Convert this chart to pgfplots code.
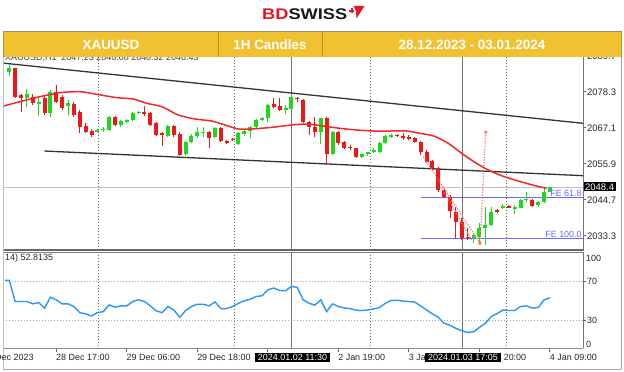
\documentclass[border=0pt]{standalone}
\usepackage{pgfplots}
\usepackage{pgfplotstable}
\pgfplotsset{compat=1.18}
\usepackage{fontspec}
\setmainfont{Liberation Sans}
\definecolor{bandY}{RGB}{240,194,50}
\definecolor{bdred}{RGB}{226,24,36}
\definecolor{cG}{RGB}{30,215,30}
\definecolor{cR}{RGB}{235,25,25}
\definecolor{maR}{RGB}{240,40,40}
\definecolor{rsiB}{RGB}{40,150,250}
\definecolor{feB}{RGB}{105,105,255}
\definecolor{fibP}{RGB}{255,105,105}
\definecolor{bidG}{RGB}{192,192,200}

\pgfplotstableread{
i O H L C
0 2084.53 2086.62 2083.28 2085.78
3 2076.20 2079.01 2073.59 2077.45
5 2074.32 2076.20 2070.78 2075.16
7 2071.51 2078.80 2070.47 2078.28
10 2073.91 2075.68 2070.99 2074.64
15 2065.78 2066.62 2065.57 2066.30
16 2066.20 2067.34 2065.78 2066.62
17 2066.30 2070.78 2065.99 2070.47
19 2067.87 2069.43 2067.34 2069.12
20 2068.91 2069.64 2068.39 2069.43
21 2069.43 2071.82 2069.12 2071.51
22 2071.51 2072.24 2071.20 2072.03
27 2064.43 2067.87 2064.22 2067.55
30 2058.70 2062.87 2058.28 2062.45
31 2062.45 2064.95 2062.14 2064.53
32 2064.43 2067.34 2063.91 2065.78
33 2065.57 2067.34 2064.22 2065.78
35 2064.22 2067.34 2063.91 2067.03
39 2061.82 2065.57 2061.62 2065.26
40 2064.95 2066.30 2064.53 2065.99
41 2065.99 2067.66 2063.70 2067.34
42 2067.34 2069.74 2067.03 2069.43
43 2069.43 2070.47 2069.12 2069.95
44 2069.95 2074.32 2068.91 2074.11
47 2072.55 2074.11 2071.20 2073.07
48 2072.87 2077.45 2072.55 2076.72
53 2065.57 2070.16 2061.82 2069.95
55 2058.70 2065.99 2058.49 2065.57
60 2057.97 2058.91 2057.66 2058.70
61 2058.70 2059.53 2058.28 2059.32
62 2059.32 2060.57 2059.01 2060.05
63 2059.53 2062.45 2059.22 2062.14
64 2062.14 2064.74 2061.82 2064.43
65 2064.22 2064.95 2063.91 2064.74
79 2032.66 2034.01 2030.89 2033.49
80 2032.97 2037.14 2030.57 2035.78
81 2035.57 2042.34 2030.37 2036.62
82 2036.62 2042.34 2036.41 2040.78
84 2041.82 2043.07 2041.62 2042.66
86 2041.62 2042.87 2039.95 2042.34
87 2042.03 2044.74 2041.82 2044.43
88 2044.32 2047.03 2043.91 2044.74
90 2042.87 2044.12 2042.34 2043.70
91 2043.70 2048.28 2043.39 2046.82
92 2046.82 2048.49 2046.82 2048.40
}\greentab

\pgfplotstableread{
i O H L C
1 2085.57 2085.78 2076.20 2076.72
2 2077.24 2077.45 2072.03 2076.41
4 2076.72 2077.45 2074.11 2074.64
6 2076.20 2077.24 2070.99 2071.51
8 2078.07 2080.37 2074.64 2075.16
9 2076.72 2077.24 2072.55 2073.07
11 2074.32 2074.95 2070.47 2070.99
12 2072.03 2072.55 2065.26 2067.34
13 2067.66 2068.39 2065.26 2065.78
14 2065.99 2066.62 2064.22 2064.74
18 2070.47 2070.78 2067.66 2067.87
23 2072.03 2073.91 2070.78 2071.30
24 2071.51 2071.82 2067.66 2067.87
25 2068.39 2068.91 2064.53 2064.74
26 2065.26 2065.57 2061.41 2064.74
28 2067.55 2067.87 2064.22 2064.74
29 2064.95 2065.57 2058.28 2058.49
34 2065.78 2065.99 2060.78 2063.91
36 2067.03 2067.34 2062.66 2062.87
37 2062.87 2063.07 2061.82 2062.14
38 2063.49 2063.70 2062.87 2063.07
45 2074.32 2076.20 2073.07 2073.59
46 2073.91 2076.20 2072.24 2072.55
49 2076.41 2076.72 2075.16 2075.89
50 2075.68 2075.99 2068.39 2068.91
51 2068.91 2069.12 2064.74 2067.34
52 2067.34 2070.47 2064.22 2065.78
54 2070.16 2070.47 2055.57 2058.70
56 2065.57 2065.99 2061.62 2062.14
57 2062.45 2062.87 2060.37 2060.78
58 2061.09 2061.62 2060.16 2060.57
59 2060.57 2060.78 2057.66 2057.97
66 2064.74 2064.95 2064.12 2064.32
67 2064.43 2065.47 2063.18 2063.70
68 2064.22 2064.74 2063.07 2063.49
69 2063.70 2064.22 2062.14 2062.45
70 2062.45 2062.87 2058.49 2059.53
71 2059.53 2060.05 2055.89 2056.41
72 2056.62 2056.93 2053.80 2054.32
73 2054.53 2054.84 2046.82 2047.55
74 2047.55 2048.28 2044.95 2045.47
75 2045.47 2045.99 2038.70 2040.99
76 2040.78 2042.34 2032.45 2037.45
77 2037.45 2038.70 2031.93 2032.45
78 2032.87 2035.57 2031.93 2032.45
83 2041.30 2041.62 2040.26 2040.78
85 2042.66 2042.87 2041.82 2042.03
89 2044.43 2044.74 2042.34 2042.66
}\redtab

\pgfplotstablegetrowsof{\greentab}\pgfmathtruncatemacro{\nG}{\pgfplotsretval-1}
\pgfplotstablegetrowsof{\redtab}\pgfmathtruncatemacro{\nR}{\pgfplotsretval-1}

\begin{document}
\begin{tikzpicture}
\path[use as bounding box, fill=white] (0bp,0bp) rectangle (624bp,372bp);

% ---------------- main price panel ----------------
\begin{axis}[
  at={(3bp,122bp)}, anchor=south west, scale only axis,
  width=580bp, height=195bp,
  xmin=-1.07, xmax=97.62, ymin=2028.81, ymax=2089.74,
  axis line style={draw=none},
  xtick=\empty,
  ytick={2033.3,2044.7,2055.9,2067.1,2078.3,2089.7},
  yticklabels={2033.3,2044.7,2055.9,2067.1,2078.3,2089.7},
  ytick pos=right, yticklabel pos=right,
  tick align=outside, major tick length=3bp,
  tick style={draw=black!60, line width=0.8bp},
  yticklabel style={font=\fontsize{9.5}{10}\selectfont, text=black!85, anchor=west, inner xsep=1bp, yshift=-1bp},
]
% day separators
\addplot[forget plot, black!60, line width=0.9bp, dash pattern=on 1bp off 2bp] coordinates {(15.09,2028.81) (15.09,2089.74)};
\addplot[forget plot, black!60, line width=0.9bp, dash pattern=on 1bp off 2bp] coordinates {(38.23,2028.81) (38.23,2089.74)};
\addplot[forget plot, black!60, line width=0.9bp, dash pattern=on 1bp off 2bp] coordinates {(61.37,2028.81) (61.37,2089.74)};
\addplot[forget plot, black!60, line width=0.9bp, dash pattern=on 1bp off 2bp] coordinates {(84.52,2028.81) (84.52,2089.74)};
% cursor lines
\addplot[forget plot, black!55, line width=1bp] coordinates {(48.10,2028.81) (48.10,2089.74)};
\addplot[forget plot, black!55, line width=1bp] coordinates {(77.03,2028.81) (77.03,2089.74)};
% bid line
\addplot[forget plot, bidG, line width=1bp] coordinates {(-1.07,2048.4) (97.62,2048.4)};
% FE levels
\addplot[forget plot, feB, line width=1bp] coordinates {(70.0,2045.15) (97.62,2045.15)};
\addplot[forget plot, feB, line width=1bp] coordinates {(70.0,2032.46) (97.62,2032.46)};
% trend channel
\addplot[forget plot, black!80, line width=1.3bp] coordinates {(-1.07,2087.21) (97.62,2068.40)};
\addplot[forget plot, black!80, line width=1.3bp] coordinates {(5.96,2059.74) (97.62,2052.03)};
% candles
\pgfplotsinvokeforeach{0,...,\nG}{
  \pgfplotstablegetelem{#1}{i}\of\greentab \let\ci\pgfplotsretval
  \pgfplotstablegetelem{#1}{O}\of\greentab \let\cO\pgfplotsretval
  \pgfplotstablegetelem{#1}{H}\of\greentab \let\cH\pgfplotsretval
  \pgfplotstablegetelem{#1}{L}\of\greentab \let\cL\pgfplotsretval
  \pgfplotstablegetelem{#1}{C}\of\greentab \let\cC\pgfplotsretval
  \edef\tmp{\noexpand\addplot[forget plot, cG, line width=1bp] coordinates {(\ci,\cL) (\ci,\cH)};
    \noexpand\addplot[forget plot, cG, line width=4bp] coordinates {(\ci,\cO) (\ci,\cC)};}
  \tmp
}
\pgfplotsinvokeforeach{0,...,\nR}{
  \pgfplotstablegetelem{#1}{i}\of\redtab \let\ci\pgfplotsretval
  \pgfplotstablegetelem{#1}{O}\of\redtab \let\cO\pgfplotsretval
  \pgfplotstablegetelem{#1}{H}\of\redtab \let\cH\pgfplotsretval
  \pgfplotstablegetelem{#1}{L}\of\redtab \let\cL\pgfplotsretval
  \pgfplotstablegetelem{#1}{C}\of\redtab \let\cC\pgfplotsretval
  \edef\tmp{\noexpand\addplot[forget plot, cR, line width=1bp] coordinates {(\ci,\cL) (\ci,\cH)};
    \noexpand\addplot[forget plot, cR, line width=4bp] coordinates {(\ci,\cO) (\ci,\cC)};}
  \tmp
}
% moving average
\addplot[forget plot, maR, line width=1.5bp, smooth, tension=0.4] coordinates {
(-1.07,2073.70) (-0.73,2073.91) (1.82,2075.16) (5.22,2076.72) (8.63,2077.97) (12.03,2078.28)
(14.87,2077.45) (18.27,2076.41) (21.1,2075.99) (23.38,2074.64) (25.93,2073.59) (28.76,2070.99)
(31.6,2069.74) (34.44,2069.12) (36.7,2067.87) (38.97,2066.62) (41.24,2066.62) (44.65,2067.13)
(48.05,2067.87) (50.6,2068.18) (53.43,2067.55) (56.27,2066.82) (59.11,2066.30) (61.94,2065.99)
(64.78,2065.99) (67.62,2065.99) (69.88,2065.26) (71.58,2064.74) (72.43,2064.32) (74.7,2062.14)
(76.98,2059.01) (79.24,2056.20) (81.5,2053.80) (83.78,2052.03) (86.6,2050.37) (89.45,2048.91)
(91.44,2048.07)};
% fibo expansion dotted lines
\addplot[forget plot, fibP, line width=1.1bp, dash pattern=on 1.2bp off 1.5bp] coordinates {(70.45,2057.96) (80.09,2030.90) (81.06,2065.59)};
\addplot[forget plot, fibP, line width=1.1bp, dash pattern=on 1.2bp off 1.5bp] coordinates {(73.57,2048.34) (78.68,2031.93)};
\addplot[forget plot, fibP, only marks, mark=o, mark size=1.4bp, line width=0.7bp] coordinates {(81.06,2065.59) (80.09,2030.90)};
\end{axis}

% ---------------- RSI panel ----------------
\begin{axis}[
  at={(3bp,22.75bp)}, anchor=south west, scale only axis,
  width=580bp, height=97.5bp,
  xmin=-1.07, xmax=97.62, ymin=0, ymax=100,
  axis line style={draw=none},
  ytick={30,70}, yticklabels={30,70},
  ytick pos=right, yticklabel pos=right,
  xtick={7.95,19.95,31.95,43.95,55.95,67.95,79.95,91.95},
  xticklabels={28 Dec 17:00,29 Dec 06:00,29 Dec 18:00,,2 Jan 19:00,3 Jan 08:00,3 Jan 20:00,4 Jan 09:00},
  xtick pos=bottom,
  tick align=outside, major tick length=3bp,
  tick style={draw=black!60, line width=0.8bp},
  yticklabel style={font=\fontsize{9}{10}\selectfont, text=black!85, anchor=west, inner xsep=1bp},
  xticklabel style={font=\fontsize{9}{10}\selectfont, text=black!85, anchor=north west, inner xsep=0bp, inner ysep=1.5bp},
]
\addplot[forget plot, black!35, line width=0.9bp, dash pattern=on 1bp off 2bp] coordinates {(-1.07,70) (97.62,70)};
\addplot[forget plot, black!35, line width=0.9bp, dash pattern=on 1bp off 2bp] coordinates {(-1.07,30) (97.62,30)};
\addplot[forget plot, black!60, line width=0.9bp, dash pattern=on 1bp off 2bp] coordinates {(15.09,0) (15.09,100)};
\addplot[forget plot, black!60, line width=0.9bp, dash pattern=on 1bp off 2bp] coordinates {(38.23,0) (38.23,100)};
\addplot[forget plot, black!60, line width=0.9bp, dash pattern=on 1bp off 2bp] coordinates {(61.37,0) (61.37,100)};
\addplot[forget plot, black!60, line width=0.9bp, dash pattern=on 1bp off 2bp] coordinates {(84.52,0) (84.52,100)};
\addplot[forget plot, black!55, line width=1bp] coordinates {(48.10,0) (48.10,100)};
\addplot[forget plot, black!55, line width=1bp] coordinates {(77.03,0) (77.03,100)};
\addplot[forget plot, rsiB, line width=1.4bp] coordinates {
(-0.75,70.7) (0,70.7) (1,49.0) (2,49.0) (3,49.0) (4,46.6) (5,47.9) (6,42.1) (7,53.4) (8,50.7)
(9,46.6) (10,46.6) (11,43.8) (12,37.6) (13,36.2) (14,34.1) (15,37.6) (16,38.6) (17,45.5) (18,43.1)
(19,44.5) (20,44.5) (21,49.0) (22,50.7) (23,49.0) (24,44.5) (25,39.3) (26,37.6) (27,43.8) (28,40.3)
(29,32.8) (30,39.7) (31,43.8) (32,46.2) (33,46.2) (34,44.5) (35,48.6) (36,41.7) (37,41.7) (38,43.8)
(39,47.2) (40,49.7) (41,51.4) (42,54.1) (43,54.8) (44,61.0) (45,62.8) (46,60.3) (47,60.0) (48,64.5)
(49,63.4) (50,50.7) (51,47.2) (52,45.2) (53,50.7) (54,38.6) (55,46.6) (56,43.8) (57,42.4) (58,41.7)
(59,40.0) (60,39.7) (61,40.3) (62,41.4) (63,42.8) (64,47.2) (65,50.0) (66,50.3) (67,49.3) (68,49.0)
(69,48.3) (70,44.5) (71,40.3) (72,36.2) (73,32.8) (74,26.6) (75,24.5) (76,21.4) (77,19.0) (78,17.2)
(79,17.9) (80,22.4) (81,26.6) (82,33.5) (83,36.6) (84,40.3) (85,39.7) (86,39.7) (87,43.8) (88,44.5)
(89,42.1) (90,42.8) (91,50.7) (92,52.8)};
\end{axis}

\begin{scope}[x=1bp,y=1bp]
% ---------------- frames ----------------
\draw[black!55, line width=1bp] (583,317) -- (583,121);
\draw[black!55, line width=1bp] (583,120) -- (583,24);
\draw[black!60, line width=1.1bp] (3,122) -- (583,122);
\draw[black!50, line width=1bp] (3,119.8) -- (583,119.8);
\draw[black!45, line width=0.9bp] (3,24) -- (583,24);
\draw[black!35, line width=0.8bp] (3,3) -- (621,3);
\draw[black!35, line width=0.8bp] (621,3) -- (621,315);
\draw[black!25, line width=0.8bp] (3,3) -- (3,315);

% labels around panels
\node[anchor=west, fill=black, text=white, font=\fontsize{9.5}{10}\selectfont, inner xsep=1.5bp, inner ysep=1.2bp] at (583.5,185.2) {2048.4};
\node[anchor=south east, text=feB, font=\fontsize{9}{10}\selectfont, inner sep=0.6bp] at (582.5,174.6) {FE 61.8};
\node[anchor=south east, text=feB, font=\fontsize{9}{10}\selectfont, inner sep=0.6bp] at (582.5,134.0) {FE 100.0};
\node[anchor=west, text=black!85, font=\fontsize{9}{10}\selectfont, inner sep=0] at (586,114) {100};
\node[anchor=west, text=black!85, font=\fontsize{9}{10}\selectfont, inner sep=0] at (586,28) {0};
\node[anchor=west, text=black!85, font=\fontsize{9}{10}\selectfont, inner sep=0] at (5,113.5) {14) 52.8135};
\node[anchor=west, text=black!85, font=\fontsize{9}{10}\selectfont, inner sep=0] at (-17.5,15) {28 Dec 2023};
\node[fill=black, text=white, font=\fontsize{9}{10}\selectfont, inner xsep=3bp, inner ysep=1.6bp] at (292.5,14.5) {2024.01.02 11:30};
\node[fill=black, text=white, font=\fontsize{9}{10}\selectfont, inner xsep=3bp, inner ysep=1.6bp] at (463,14.5) {2024.01.03 17:05};
\node[anchor=west, text=black!75, font=\fontsize{9}{10}\selectfont, inner sep=0] at (5,314.3) {XAUUSD,H1\ \ 2047.23 2048.08 2046.32 2046.43};

% ---------------- banner ----------------
\fill[bandY] (3,315) rectangle (622,341);
\draw[black!45, line width=0.8bp] (3,341) -- (622,341);
\draw[bandY!75!black, line width=0.7bp] (3.4,315) -- (3.4,341);
\draw[bandY!75!black, line width=0.7bp] (218,315) -- (218,341);
\draw[bandY!75!black, line width=0.7bp] (322,315) -- (322,341);
\draw[bandY!75!black, line width=0.7bp] (621.6,315) -- (621.6,341);
\node[text=white, font=\bfseries\fontsize{13.5}{14}\selectfont] at (111,327) {XAUUSD};
\node[text=white, font=\bfseries\fontsize{13.5}{14}\selectfont] at (270,327) {1H Candles};
\node[text=white, font=\bfseries\fontsize{13.5}{14}\selectfont] at (472,327) {28.12.2023 - 03.01.2024};

% ---------------- logo ----------------
\node[anchor=base west, inner sep=0, font=\bfseries\fontsize{15.5}{16}\selectfont] at (262,353)
  {\scalebox{1.18}[1]{\textcolor{bdred}{BD}\textcolor{black!90}{SWISS}}};
\fill[bdred] (353.5,366) -- (364.5,366) -- (356.5,353.5) -- (356,361) -- cycle;
\fill[bdred] (349.2,360.2) rectangle (354.2,361.8);
\fill[bdred] (350.9,358.5) rectangle (352.5,363.5);
\end{scope}
\end{tikzpicture}
\end{document}
